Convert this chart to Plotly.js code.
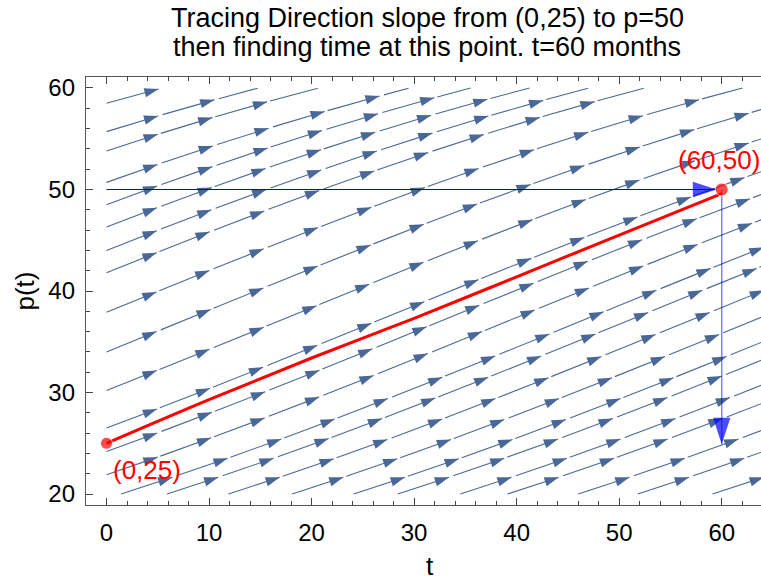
<!DOCTYPE html>
<html><head><meta charset="utf-8">
<script src="https://cdn.plot.ly/plotly-3.0.1.min.js"></script>
<style>html,body{margin:0;padding:0;overflow:hidden;background:#fff}#chart{width:775px;height:581px}</style>
</head><body><div id="chart"></div>
<script>
// ---------- values ----------
const xTickVals = [0, 10, 20, 30, 40, 50, 60];
const yTickVals = [20, 30, 40, 50, 60];
const solutionT = [0, 10, 20, 30, 40, 50, 60];
const solutionP = [25, 29.3, 33.4, 37.3, 41.4, 45.5, 49.6];
const startPoint = [0, 25];
const endPoint = [60, 50];
const pointLabels = ['(0,25)', '(60,50)'];
const traceTargetP = 50;      // horizontal trace level
const traceTime = 60;         // vertical trace time
const traceDownTo = 24.9;     // where the vertical arrow ends
const horizArrowTipT = 59.5;  // where the horizontal arrow ends
// slope field dp/dt = r p (1 - p/M), estimated from the arrows
const growthRate = 0.022;
const capacity = 75;
// streamline seeds
const leftSeedsP = [19.9, 21.9, 24.2, 26.5, 30.2, 34.0, 37.9, 41.8, 44.0, 46.3, 48.5, 50.7, 53.8, 55.7, 58.5];
const bottomSeedsT = [5.9, 11.9, 18.1, 24.1, 28.4, 34.5, 39.1, 46.0, 51.8, 59.1];
const fieldT = [0, 65];
const fieldP = [20, 60];
const tRange = [-2, 65];
const pRange = [18.92, 61.08];
const titleLines = ['Tracing Direction slope from (0,25) to p=50', 'then finding time at this point. t=60 months'];

// ---------- geometry ----------
const W = 775, H = 581, mL = 86, mR = 2, mT = 77, mB = 76;
const sx = (W - mL - mR) / (tRange[1] - tRange[0]);
const sy = (H - mT - mB) / (pRange[1] - pRange[0]);

function slope(p) { return growthRate * p * (1 - p / capacity); }
const dsep = 23, dtest = 10, step = 1.5, pieceLen = 53, gapLen = 3;
const grid = new Map();
function gkey(i, j) { return i + ',' + j; }
function addPoint(px, py, id) {
  const k = gkey(Math.floor(px / dsep), Math.floor(py / dsep));
  if (!grid.has(k)) grid.set(k, []);
  grid.get(k).push([px, py, id]);
}
function minDist(px, py, id) {
  let best = Infinity;
  const i = Math.floor(px / dsep), j = Math.floor(py / dsep);
  for (let a = i - 1; a <= i + 1; a++) for (let b = j - 1; b <= j + 1; b++) {
    const arr = grid.get(gkey(a, b)); if (!arr) continue;
    for (const q of arr) { if (q[2] === id) continue; const d = Math.hypot(q[0] - px, q[1] - py); if (d < best) best = d; }
  }
  return best;
}
function inside(t, p) { return t >= fieldT[0] && t <= fieldT[1] && p >= fieldP[0] && p <= fieldP[1]; }
function dirPx(p) { const vx = sx, vy = sy * slope(p); const n = Math.hypot(vx, vy); return [vx / n, vy / n]; }
function trace(t0, p0, sign, id) {
  const pts = []; let t = t0, p = p0;
  for (let n = 0; n < 3000; n++) {
    let u = dirPx(p);
    const pm = p + sign * 0.5 * step * u[1] / sy;
    u = dirPx(pm);
    const t1 = t + sign * step * u[0] / sx, p1 = p + sign * step * u[1] / sy;
    if (!inside(t1, p1)) break;
    if (minDist(t1 * sx, p1 * sy, id) < dtest) break;
    pts.push([t1, p1]); t = t1; p = p1;
  }
  return pts;
}
const lines = [];
function makeLine(t0, p0, minSep) {
  if (!inside(t0, p0)) return false;
  if (minDist(t0 * sx, p0 * sy, -1) < minSep) return false;
  const id = lines.length;
  const back = trace(t0, p0, -1, id).reverse();
  const fwd = trace(t0, p0, 1, id);
  const pts = back.concat([[t0, p0]], fwd);
  if (pts.length * step < 20) return false;
  for (const q of pts) addPoint(q[0] * sx, q[1] * sy, id);
  lines.push(pts);
  return true;
}
leftSeedsP.forEach(p => makeLine(0, p, dtest));
bottomSeedsT.forEach(t => makeLine(t, 20, dtest));
for (let li = 0; li < lines.length; li++) {
  const pts = lines[li];
  for (let k = 0; k < pts.length; k += 4) {
    const [t, p] = pts[k];
    const u = dirPx(p);
    for (const s of [1, -1]) {
      const cx = t * sx - s * dsep * u[1], cy = p * sy + s * dsep * u[0];
      makeLine(cx / sx, cy / sy, dsep * 0.97);
    }
  }
}
// split into arrowed pieces
const segT = [], segP = [], tipT = [], tipP = [], tipAng = [];
for (const pts of lines) {
  let acc = 0, inGap = false, cur = [pts[0]];
  const flush = () => { if (cur.length > 1) { cur.forEach(q => { segT.push(q[0]); segP.push(q[1]); }); segT.push(null); segP.push(null); } };
  for (let k = 1; k < pts.length; k++) {
    const a = pts[k - 1], b = pts[k];
    acc += Math.hypot((b[0] - a[0]) * sx, (b[1] - a[1]) * sy);
    if (inGap) { if (acc >= gapLen) { inGap = false; acc = 0; cur = [b]; } continue; }
    cur.push(b);
    if (acc >= pieceLen) {
      flush();
      tipT.push(b[0]); tipP.push(b[1]);
      tipAng.push(Math.atan2((b[0] - a[0]) * sx, (b[1] - a[1]) * sy) * 180 / Math.PI);
      inGap = true; acc = 0; cur = [];
    }
  }
  if (!inGap) flush();
}

const streamColor = '#4a6897';
const FONT = 'Liberation Sans, Arial, sans-serif';
const traces = [
  { x: segT, y: segP, mode: 'lines', line: { color: streamColor, width: 1.1 }, hoverinfo: 'skip', connectgaps: false },
  { x: tipT, y: tipP, mode: 'markers', marker: { symbol: 'arrow', size: 15, angle: tipAng, color: streamColor, line: { width: 0 } }, hoverinfo: 'skip' },
  { x: solutionT, y: solutionP, mode: 'lines', line: { color: '#ff0000', width: 3, shape: 'spline' } },
  { x: [startPoint[0], horizArrowTipT], y: [traceTargetP, traceTargetP], mode: 'lines', line: { color: '#0000ff', width: 1.1 } },
  { x: [traceTime, traceTime], y: [traceTargetP, traceDownTo], mode: 'lines', line: { color: 'rgba(0,0,255,0.5)', width: 1.5 } },
  { x: [horizArrowTipT, traceTime], y: [traceTargetP, traceDownTo], mode: 'markers', marker: { symbol: 'arrow', size: [25, 28], angle: [90, 180], color: '#0000ff', line: { width: 0 } } },
  { x: [startPoint[0], endPoint[0]], y: [startPoint[1], endPoint[1]], mode: 'markers', marker: { color: '#ff0000', size: [12, 13] } }
];
const axisCommon = {
  showline: true, linecolor: '#555', linewidth: 1.2, mirror: 'allticks',
  ticks: 'inside', ticklen: 7, tickwidth: 1, tickcolor: '#444',
  minor: { dtick: 2, ticks: 'inside', ticklen: 4, tickwidth: 1, tickcolor: '#444' },
  showgrid: false, zeroline: false,
  tickfont: { family: FONT, size: 24, color: '#000' }
};
const layout = {
  width: W, height: H, margin: { l: mL, r: mR, t: mT, b: mB },
  paper_bgcolor: '#fff', plot_bgcolor: '#fff', showlegend: false,
  xaxis: Object.assign({}, axisCommon, { range: tRange, tickvals: xTickVals, ticklabelstandoff: 6,
    title: { text: 't', font: { family: FONT, size: 26, color: '#000' }, standoff: 16 } }),
  yaxis: Object.assign({}, axisCommon, { range: pRange, tickvals: yTickVals, ticklabelstandoff: 5,
    title: { text: 'p(t)', font: { family: FONT, size: 26, color: '#000' }, standoff: 6 } }),
  annotations: [
    { text: titleLines[0], xref: 'paper', yref: 'paper', x: 0.497, y: 1 + (mT - 18) / (H - mT - mB), yanchor: 'middle', showarrow: false, font: { family: FONT, size: 27, color: '#000' } },
    { text: titleLines[1], xref: 'paper', yref: 'paper', x: 0.497, y: 1 + (mT - 47) / (H - mT - mB), yanchor: 'middle', showarrow: false, font: { family: FONT, size: 27, color: '#000' } },
    { text: pointLabels[0], x: startPoint[0], y: startPoint[1], xshift: 40, yshift: -27, showarrow: false, font: { family: FONT, size: 26, color: '#ff0000' } },
    { text: pointLabels[1], x: endPoint[0], y: endPoint[1], xshift: -3, yshift: 29, showarrow: false, font: { family: FONT, size: 26, color: '#ff0000' } }
  ]
};
Plotly.newPlot('chart', traces, layout, { displayModeBar: false, staticPlot: true });
</script></body></html>
